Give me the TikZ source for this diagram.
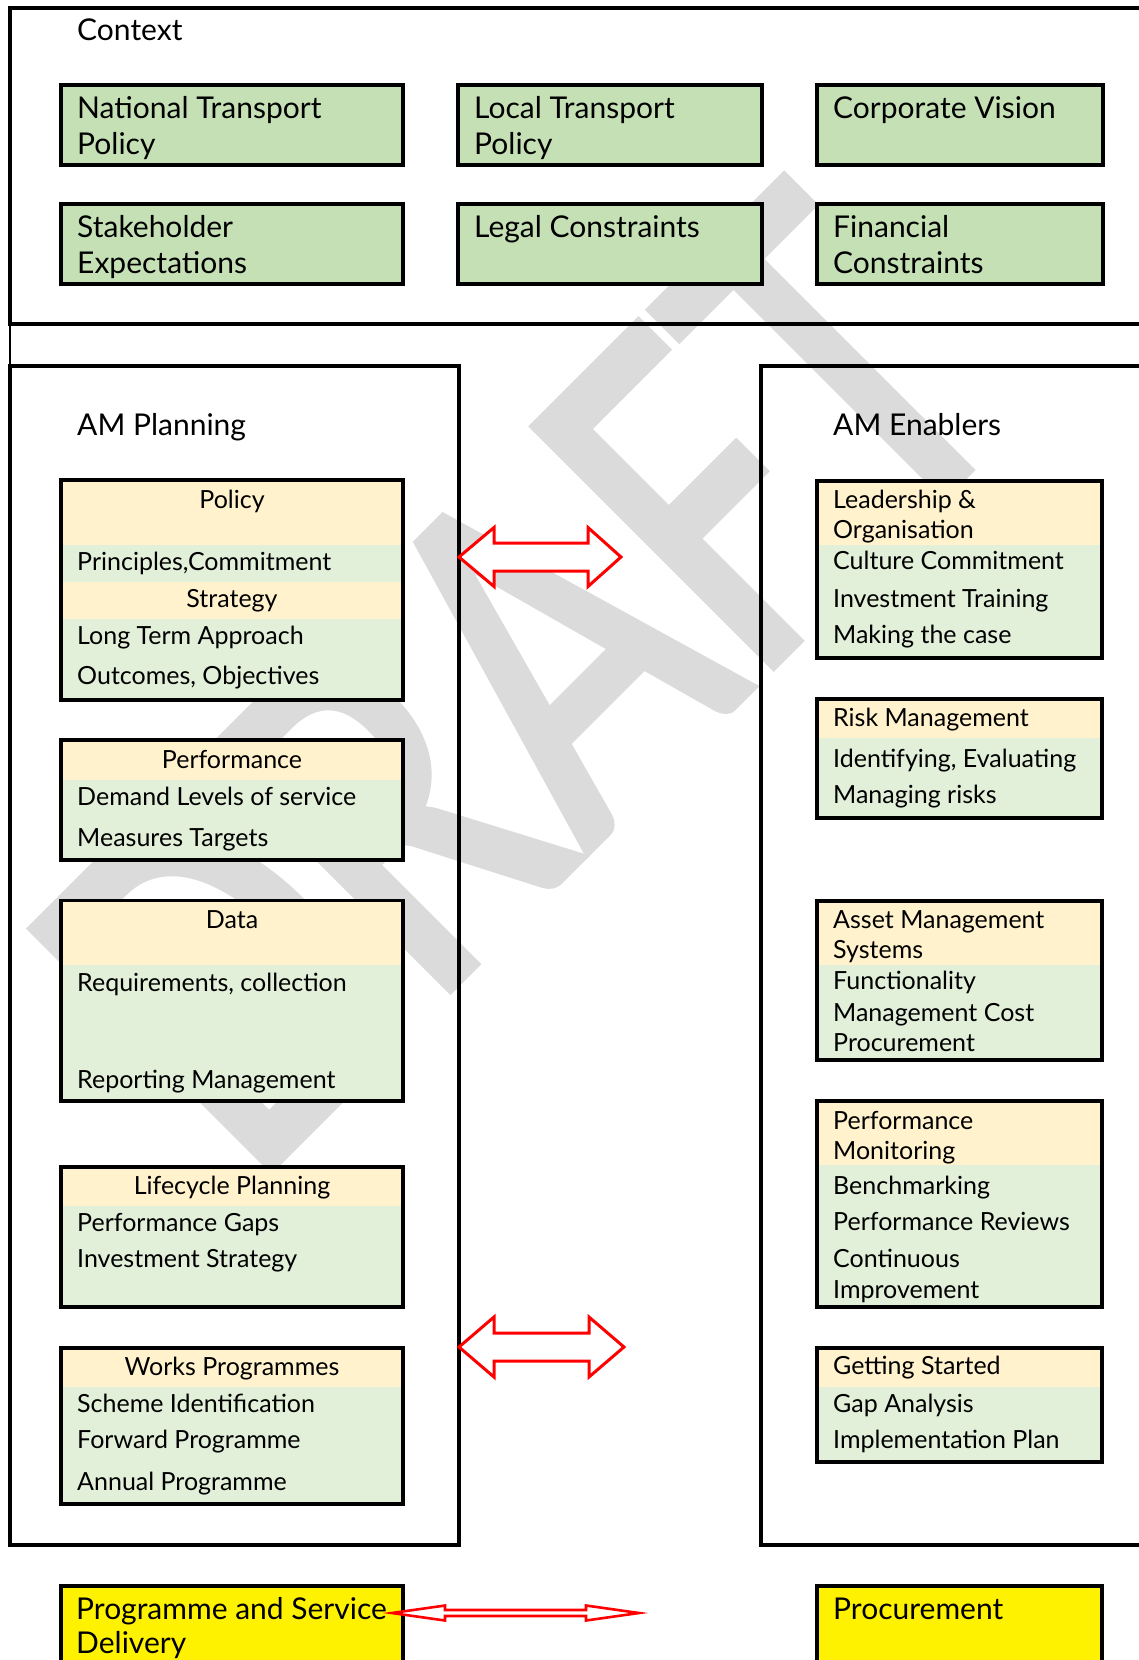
\documentclass[tikz,border=0pt]{standalone}
\usepackage{fontspec}
\setmainfont{Lato}
\newfontfamily\wmfont[FakeBold=1.8]{Carlito}
\definecolor{ctxgreen}{HTML}{C5E0B4}
\definecolor{lgreen}{HTML}{E2EFD9}
\definecolor{cream}{HTML}{FFF2CC}
\definecolor{wmgray}{RGB}{219,219,219}
\definecolor{arrred}{RGB}{255,0,0}
\newcommand\bigtxt{\fontsize{30}{36}\selectfont}
\newcommand\smtxt{\fontsize{25}{30}\selectfont}
\begin{document}
\begin{tikzpicture}[x=1pt,y=-1pt,
  outerbox/.style={draw=black,line width=3.2pt,anchor=north west,inner sep=0pt,outer sep=0pt},
  ibox/.style={draw=black,line width=3.2pt,anchor=north west,inner sep=0pt,outer sep=0pt},
  bt/.style={font=\bigtxt,inner sep=0pt,anchor=base west},
  st/.style={font=\smtxt,inner sep=0pt,anchor=base west},
  sc/.style={font=\smtxt,inner sep=0pt,anchor=base},
  dblarrow/.style={draw=arrred,fill=white,line width=3pt,line join=miter},
  wm/.style={font=\wmfont\fontsize{450}{450}\selectfont,text=wmgray,inner sep=0pt,anchor=base west,rotate=45,xscale=0.909,yscale=1.17}
]
\clip (0,0) rectangle (1139,1660);
\fill[white] (0,0) rectangle (1139,1660);
% watermark
\node[wm] (draft) at (251,1188) {DRAFT};

% outer frames
\node[outerbox,minimum width=1160pt,minimum height=316pt] (context) at (10,8) {};
\node[outerbox,minimum width=449pt,minimum height=1179pt] (plan) at (10,366) {};
\node[outerbox,minimum width=420pt,minimum height=1179pt] (enab) at (761,366) {};
\draw[line width=1.3pt] (context.south west) -- (plan.north west);

\node[bt] (ctxt) at (77,40.7) {Context};
\node[bt] (plant) at (77,435) {AM Planning};
\node[bt] (enabt) at (833,435) {AM Enablers};

% context boxes
\node[ibox,fill=ctxgreen,minimum width=342pt,minimum height=80pt] (ntp) at (61,85) {};
\node[ibox,fill=ctxgreen,minimum width=304pt,minimum height=80pt] (ltp) at (458,85) {};
\node[ibox,fill=ctxgreen,minimum width=286pt,minimum height=80pt] (cv) at (817,85) {};
\node[ibox,fill=ctxgreen,minimum width=342pt,minimum height=80pt] (se) at (61,204) {};
\node[ibox,fill=ctxgreen,minimum width=304pt,minimum height=80pt] (lc) at (458,204) {};
\node[ibox,fill=ctxgreen,minimum width=286pt,minimum height=80pt] (fc) at (817,204) {};
\node[bt] (ntp1) at (77,118) {National Transport};
\node[bt] (ntp2) at (77,154) {Policy};
\node[bt] (ltp1) at (474,118) {Local Transport};
\node[bt] (ltp2) at (474,154) {Policy};
\node[bt] (cv1) at (833,118) {Corporate Vision};
\node[bt] (se1) at (77,237) {Stakeholder};
\node[bt] (se2) at (77,273) {Expectations};
\node[bt] (lc1) at (474,237) {Legal Constraints};
\node[bt] (fc1) at (833,237) {Financial};
\node[bt] (fc2) at (833,273) {Constraints};

% ---- AM Planning boxes
% Policy
\fill[lgreen] (61,480) rectangle (403,700);
\fill[cream] (61,480) rectangle (403,545);
\fill[cream] (61,582) rectangle (403,619);
\node[ibox,minimum width=342pt,minimum height=220pt] (pol) at (61,480) {};
\node[sc] (pol0) at (232,508) {Policy};
\node[st] (pol1) at (77,570.7) {Principles,Commitment};
\node[sc] (pol2) at (232,607) {Strategy};
\node[st] (pol3) at (77,644) {Long Term Approach};
\node[st] (pol4) at (77,684) {Outcomes, Objectives};
% Performance
\fill[lgreen] (61,740) rectangle (403,860);
\fill[cream] (61,740) rectangle (403,779.5);
\node[ibox,minimum width=342pt,minimum height=120pt] (perf) at (61,740) {};
\node[sc] (perf0) at (232,768.6) {Performance};
\node[st] (perf1) at (77,805.6) {Demand Levels of service};
\node[st] (perf2) at (77,846) {Measures Targets};
% Data
\fill[lgreen] (61,900.6) rectangle (403,1101);
\fill[cream] (61,900.6) rectangle (403,965);
\node[ibox,minimum width=342pt,minimum height=200.4pt] (data) at (61,900.6) {};
\node[sc] (data0) at (232,928.5) {Data};
\node[st] (data1) at (77,991) {Requirements, collection};
\node[st] (data2) at (77,1088) {Reporting Management};
% Lifecycle
\fill[lgreen] (61,1167) rectangle (403,1307);
\fill[cream] (61,1167) rectangle (403,1206);
\node[ibox,minimum width=342pt,minimum height=140pt] (life) at (61,1167) {};
\node[sc] (life0) at (232,1194) {Lifecycle Planning};
\node[st] (life1) at (77,1231) {Performance Gaps};
\node[st] (life2) at (77,1267) {Investment Strategy};
% Works
\fill[lgreen] (61,1348) rectangle (403,1504);
\fill[cream] (61,1348) rectangle (403,1387);
\node[ibox,minimum width=342pt,minimum height=156pt] (works) at (61,1348) {};
\node[sc] (works0) at (232,1375) {Works Programmes};
\node[st] (works1) at (77,1412) {Scheme Identification};
\node[st] (works2) at (77,1448) {Forward Programme};
\node[st] (works3) at (77,1490) {Annual Programme};

% ---- AM Enablers boxes
% Leadership
\fill[lgreen] (817,481) rectangle (1102,658);
\fill[cream] (817,481) rectangle (1102,545);
\node[ibox,minimum width=285pt,minimum height=177pt] (lead) at (817,481) {};
\node[st] (lead0) at (833,508) {Leadership \&};
\node[st] (lead1) at (833,538) {Organisation};
\node[st] (lead2) at (833,569) {Culture Commitment};
\node[st] (lead3) at (833,607) {Investment Training};
\node[st] (lead4) at (833,643) {Making the case};
% Risk
\fill[lgreen] (817,699) rectangle (1102,818);
\fill[cream] (817,699) rectangle (1102,738);
\node[ibox,minimum width=285pt,minimum height=119pt] (risk) at (817,699) {};
\node[st] (risk0) at (833,726) {Risk Management};
\node[st] (risk1) at (833,767) {Identifying, Evaluating};
\node[st] (risk2) at (833,803) {Managing risks};
% Asset Management Systems
\fill[lgreen] (817,901) rectangle (1102,1060);
\fill[cream] (817,901) rectangle (1102,965);
\node[ibox,minimum width=285pt,minimum height=159pt] (ams) at (817,901) {};
\node[st] (ams0) at (833,928) {Asset Management};
\node[st] (ams1) at (833,958.5) {Systems};
\node[st] (ams2) at (833,989) {Functionality};
\node[st] (ams3) at (833,1021) {Management Cost};
\node[st] (ams4) at (833,1051) {Procurement};
% Performance Monitoring
\fill[lgreen] (817,1101) rectangle (1102,1307);
\fill[cream] (817,1101) rectangle (1102,1165);
\node[ibox,minimum width=285pt,minimum height=206pt] (pm) at (817,1101) {};
\node[st] (pm0) at (833,1129) {Performance};
\node[st] (pm1) at (833,1159) {Monitoring};
\node[st] (pm2) at (833,1194.6) {Benchmarking};
\node[st] (pm3) at (833,1230) {Performance Reviews};
\node[st] (pm4) at (833,1267) {Continuous};
\node[st] (pm5) at (833,1298) {Improvement};
% Getting Started
\fill[lgreen] (817,1348) rectangle (1102,1462);
\fill[cream] (817,1348) rectangle (1102,1387);
\node[ibox,minimum width=285pt,minimum height=114pt] (gs) at (817,1348) {};
\node[st] (gs0) at (833,1374.5) {Getting Started};
\node[st] (gs1) at (833,1412) {Gap Analysis};
\node[st] (gs2) at (833,1448) {Implementation Plan};

% ---- bottom boxes
\node[ibox,fill=yellow,minimum width=342pt,minimum height=110pt] (psd) at (61,1586) {};
\node[ibox,fill=yellow,minimum width=285pt,minimum height=110pt] (proc) at (817,1586) {};
\node[bt] (psd1) at (76,1619) {Programme and Service};
\node[bt] (psd2) at (76,1653) {Delivery};
\node[bt] (proc1) at (833,1619) {Procurement};

% ---- double arrows
\coordinate (a1) at (plan.east |- 0,557);
\draw[dblarrow] (a1) -- ++(35,-29.5) -- ++(0,15.5) -- ++(94,0) -- ++(0,-15.5)
  -- ++(33,29.5) -- ++(-33,29.5) -- ++(0,-15.5) -- ++(-94,0) -- ++(0,15.5) -- cycle;
\coordinate (a2) at (plan.east |- 0,1347);
\draw[dblarrow] (a2) -- ++(35,-30) -- ++(0,16) -- ++(95,0) -- ++(0,-16)
  -- ++(35,30) -- ++(-35,30) -- ++(0,-16) -- ++(-95,0) -- ++(0,16) -- cycle;
\coordinate (a3) at (392,1613);
\draw[dblarrow,line width=2.6pt] (a3) -- ++(53,-7.5) -- ++(0,4.5) -- ++(141,0) -- ++(0,-4.5)
  -- ++(53,7.5) -- ++(-53,7.5) -- ++(0,-4.5) -- ++(-141,0) -- ++(0,4.5) -- cycle;
\end{tikzpicture}
\end{document}
